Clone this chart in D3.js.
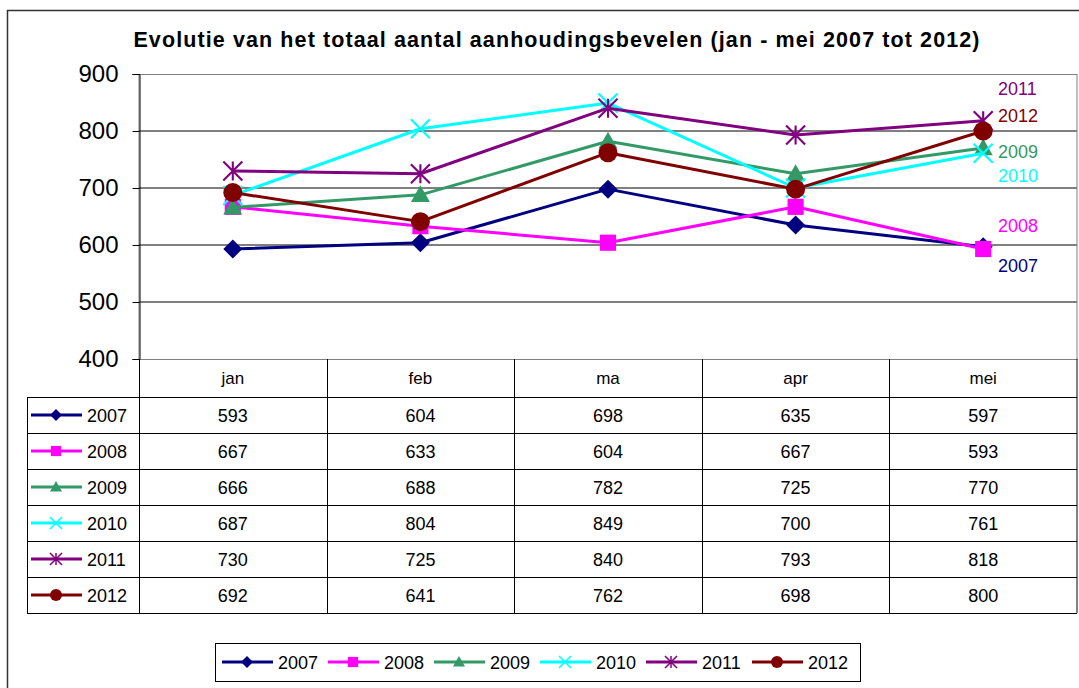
<!DOCTYPE html>
<html>
<head>
<meta charset="utf-8">
<script src="https://cdn.jsdelivr.net/npm/d3@7"></script>
<style>
  body { margin: 0; background: #fff; }
  svg { display: block; font-family: "Liberation Sans", Arial, sans-serif; }
</style>
</head>
<body>
<script>
let months = ["jan", "feb", "ma", "apr", "mei"];
let years = ["2007", "2008", "2009", "2010", "2011", "2012"];
let v2007 = [593, 604, 698, 635, 597];
let v2008 = [667, 633, 604, 667, 593];
let v2009 = [666, 688, 782, 725, 770];
let v2010 = [687, 804, 849, 700, 761];
let v2011 = [730, 725, 840, 793, 818];
let v2012 = [692, 641, 762, 698, 800];
let yTicks = [400, 500, 600, 700, 800, 900];
let title = "Evolutie van het totaal aantal aanhoudingsbevelen (jan - mei 2007 tot 2012)";

let values = [v2007, v2008, v2009, v2010, v2011, v2012];
let series = years.map((y, i) => ({year: y, values: values[i]}));

// styling per series
let colors = ["#000080", "#ff00ff", "#339966", "#00ffff", "#800080", "#800000"];
let shapes = ["diamond", "square", "triangle", "cross", "star", "circle"];
let labelDy = [25, -17, 10, 29, -26, -9];

let size = {width: 1079, height: 688};
let plot = {left: 139, right: 1077, top: 74, bottom: 359};
let table = {left: 27, headerBottom: 397, rowH: 36};

let svg = d3.select("body").append("svg")
    .attr("width", size.width)
    .attr("height", size.height);

// outer chart border
svg.append("rect")
    .attr("x", 7.5).attr("y", 10.5)
    .attr("width", 1100).attr("height", 700)
    .attr("fill", "none").attr("stroke", "#333").attr("stroke-width", 1.5);

svg.append("text")
    .attr("x", 557).attr("y", 47)
    .attr("text-anchor", "middle")
    .attr("font-size", 21.5).attr("font-weight", "bold")
    .attr("letter-spacing", 1.1)
    .text(title);

let x = d3.scaleBand()
    .domain(months)
    .range([plot.left, plot.right]);

let y = d3.scaleLinear()
    .domain([400, 900])
    .range([plot.bottom, plot.top]);

// gridlines
svg.append("g")
    .selectAll("line")
    .data(yTicks.slice(1, -1))
    .join("line")
    .attr("x1", plot.left).attr("x2", plot.right)
    .attr("y1", d => y(d)).attr("y2", d => y(d))
    .attr("stroke", "#000").attr("stroke-width", 1);

// plot frame
svg.append("rect")
    .attr("x", plot.left).attr("y", plot.top + 0.5)
    .attr("width", plot.right - plot.left).attr("height", plot.bottom - plot.top)
    .attr("fill", "none").attr("stroke", "#808080").attr("stroke-width", 1);

// y axis
svg.append("g")
    .attr("transform", `translate(${plot.left + 0.5},0)`)
    .call(d3.axisLeft(y).tickValues(yTicks).tickSize(7).tickPadding(14))
    .call(g => g.selectAll("text").attr("font-size", 24).attr("fill", "#000")
        .attr("font-family", "Liberation Sans, Arial, sans-serif"))
    .call(g => g.selectAll("line, path").attr("stroke", "#000"));

function marker(sel, shape, color, s) {
    let h = s / 2;
    if (shape === "diamond") {
        sel.append("path").attr("d", `M0,${-h}L${h},0L0,${h}L${-h},0Z`).attr("fill", color);
    } else if (shape === "square") {
        let q = h * 0.85;
        sel.append("rect").attr("x", -q).attr("y", -q).attr("width", 2 * q).attr("height", 2 * q).attr("fill", color);
    } else if (shape === "triangle") {
        sel.append("path").attr("d", `M0,${-h}L${h},${h * 0.75}L${-h},${h * 0.75}Z`).attr("fill", color);
    } else if (shape === "circle") {
        sel.append("circle").attr("r", h).attr("fill", color);
    } else if (shape === "cross") {
        sel.append("path").attr("d", `M${-h},${-h}L${h},${h}M${h},${-h}L${-h},${h}`)
            .attr("stroke", color).attr("stroke-width", Math.max(1.5, s / 9)).attr("fill", "none");
    } else if (shape === "star") {
        sel.append("path").attr("d", `M${-h},${-h}L${h},${h}M${h},${-h}L${-h},${h}M0,${-h}L0,${h}`)
            .attr("stroke", color).attr("stroke-width", Math.max(1.5, s / 9)).attr("fill", "none");
    }
}

let line = d3.line()
    .x((d, i) => x(months[i]) + x.bandwidth() / 2)
    .y(d => y(d));

series.forEach((s, si) => {
    let g = svg.append("g");
    g.append("path")
        .datum(s.values)
        .attr("fill", "none")
        .attr("stroke", colors[si])
        .attr("stroke-width", 3)
        .attr("stroke-linejoin", "round")
        .attr("d", line);
    s.values.forEach((v, i) => {
        let m = g.append("g")
            .attr("transform", `translate(${x(months[i]) + x.bandwidth() / 2},${y(v)})`);
        marker(m, shapes[si], colors[si], 19);
    });
    let last = s.values[s.values.length - 1];
    svg.append("text")
        .attr("x", 998)
        .attr("y", y(last) + labelDy[si])
        .attr("font-size", 18)
        .attr("fill", colors[si])
        .text(s.year);
});

// data table
let tableBottom = table.headerBottom + table.rowH * series.length;
let tg = svg.append("g").attr("stroke", "#000").attr("stroke-width", 1);
// horizontal lines
tg.selectAll("line.h")
    .data(d3.range(series.length + 1))
    .join("line")
    .attr("x1", table.left).attr("x2", plot.right)
    .attr("y1", i => table.headerBottom + i * table.rowH + 0.5)
    .attr("y2", i => table.headerBottom + i * table.rowH + 0.5);
// vertical lines
tg.selectAll("line.v")
    .data(months.slice(1))
    .join("line")
    .attr("x1", d => Math.round(x(d)) + 0.5).attr("x2", d => Math.round(x(d)) + 0.5)
    .attr("y1", plot.bottom).attr("y2", tableBottom);
tg.append("line")
    .attr("x1", plot.left + 0.5).attr("x2", plot.left + 0.5)
    .attr("y1", plot.bottom).attr("y2", tableBottom);
tg.append("line")
    .attr("x1", plot.right).attr("x2", plot.right)
    .attr("y1", plot.bottom).attr("y2", tableBottom);
tg.append("line")
    .attr("x1", table.left + 0.5).attr("x2", table.left + 0.5)
    .attr("y1", table.headerBottom).attr("y2", tableBottom);

svg.append("g")
    .selectAll("text")
    .data(months)
    .join("text")
    .attr("x", d => x(d) + x.bandwidth() / 2)
    .attr("y", 384)
    .attr("text-anchor", "middle")
    .attr("font-size", 17)
    .text(d => d);

series.forEach((s, si) => {
    let cy = table.headerBottom + si * table.rowH + table.rowH / 2;
    let row = svg.append("g");
    row.selectAll("text.v")
        .data(s.values)
        .join("text")
        .attr("x", (d, i) => x(months[i]) + x.bandwidth() / 2)
        .attr("y", cy + 7)
        .attr("text-anchor", "middle")
        .attr("font-size", 18)
        .text(d => d);
    row.append("line")
        .attr("x1", 31).attr("x2", 82)
        .attr("y1", cy).attr("y2", cy)
        .attr("stroke", colors[si]).attr("stroke-width", 3);
    marker(row.append("g").attr("transform", `translate(56,${cy})`), shapes[si], colors[si], 12);
    row.append("text")
        .attr("x", 87).attr("y", cy + 7)
        .attr("font-size", 18)
        .text(s.year);
});

// bottom legend
let legend = svg.append("g");
legend.append("rect")
    .attr("x", 215.5).attr("y", 643.5)
    .attr("width", 645).attr("height", 38)
    .attr("fill", "none").attr("stroke", "#000").attr("stroke-width", 1);

series.forEach((s, si) => {
    let lx = 222 + si * 106;
    let cy = 662;
    legend.append("line")
        .attr("x1", lx).attr("x2", lx + 51)
        .attr("y1", cy).attr("y2", cy)
        .attr("stroke", colors[si]).attr("stroke-width", 3);
    marker(legend.append("g").attr("transform", `translate(${lx + 25},${cy})`), shapes[si], colors[si], 12);
    legend.append("text")
        .attr("x", lx + 56).attr("y", cy + 7)
        .attr("font-size", 18)
        .text(s.year);
});
</script>
</body>
</html>
